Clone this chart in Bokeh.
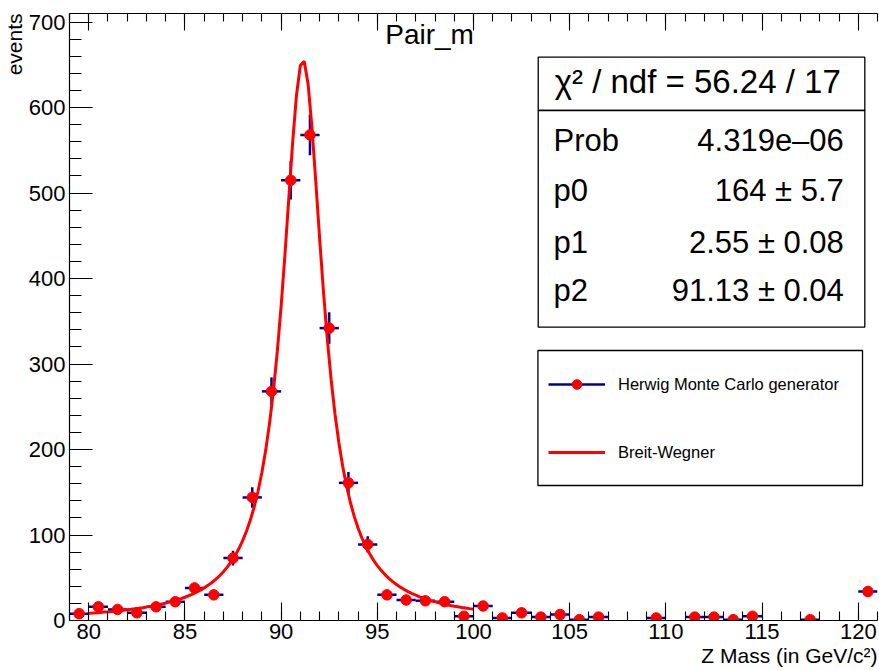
import numpy as np
from bokeh.plotting import figure
from bokeh.models import (ColumnDataSource, LinearAxis, SingleIntervalTicker, Label, Title,
                          BoxAnnotation, Legend, LegendItem, Range1d)
from bokeh.embed import file_html
from bokeh.resources import INLINE

# ---------------- data ----------------
bin_centers = [79.5, 80.5, 81.5, 82.5, 83.5, 84.5, 85.5, 86.5, 87.5, 88.5,
               89.5, 90.5, 91.5, 92.5, 93.5, 94.5, 95.5, 96.5, 97.5, 98.5,
               99.5, 100.5, 101.5, 102.5, 103.5, 104.5, 105.5, 106.5, 107.5, 108.5,
               109.5, 110.5, 111.5, 112.5, 113.5, 114.5, 115.5, 116.5, 117.5, 118.5,
               119.5, 120.5]
counts = [8, 16, 13, 9, 16, 22, 38, 30, 73, 144,
          268, 515, 568, 342, 161, 89, 30, 24, 23, 22,
          5, 17, 3, 9, 4, 7, 1, 4, 0, 0,
          3, 0, 4, 4, 1, 5, 0, 0, 1, 0,
          0, 34]
bin_width = 1.0

# Breit-Wigner fit parameters (from the stats box)
p0, p1, p2 = 164.0, 2.55, 91.13
fit_range = (80.0, 100.0)

stats_header = "\u03c7\u00b2 / ndf = 56.24 / 17"
stat_names = ["Prob", "p0", "p1", "p2"]
stat_values = ["4.319e\u201306", "164 \u00b1 5.7", "2.55 \u00b1 0.08", "91.13 \u00b1 0.04"]

title_text = "Pair_m"
x_title = "Z Mass (in GeV/c\u00b2)"
y_title = "events"
legend_labels = ["Herwig Monte Carlo generator", "Breit-Wegner"]

# ---------------- geometry ----------------
XMIN, XMAX = 79.0, 121.0
YMIN, YMAX = 0.0, 710.0
FL, FR, FT, FB = 68.0, 877.0, 13.0, 620.0   # frame edges in page pixels
W, H = 879, 670
BASE_SHIFT = 0.37   # empirical baseline correction (fraction of font size)
FONT = "Liberation Sans"
NAVY = "#000099"
RED = "#ff0000"


def dx(px):
    return XMIN + (px - FL) * (XMAX - XMIN) / (FR - FL)


def dy(py):
    return YMIN + (FB - py) * (YMAX - YMIN) / (FB - FT)


def text_label(px, py, text, fs, align):
    return Label(x=dx(px), y=dy(py - BASE_SHIFT * fs), text=text, text_font=FONT,
                 text_font_size=f"{fs}px", text_align=align, text_baseline="alphabetic",
                 text_color="black")


# ---------------- sources ----------------
xc = np.array(bin_centers)
yc = np.array(counts, dtype=float)
mask = yc > 0
xs = xc[mask]
ys = yc[mask]
err = np.sqrt(ys)
src = ColumnDataSource(dict(x=xs, y=ys, x0=xs - bin_width / 2, x1=xs + bin_width / 2,
                            y0=ys - err, y1=ys + err))

xf = np.linspace(fit_range[0], fit_range[1], 101)
yf = p0 * p1 ** 2 / ((xf - p2) ** 2 + p1 ** 2 / 4.0)
fit_src = ColumnDataSource(dict(x=xf, y=yf))

# ---------------- figure ----------------
p = figure(width=W, height=H, x_range=Range1d(XMIN, XMAX), y_range=Range1d(YMIN, YMAX),
           output_backend="svg", toolbar_location=None,
           min_border_left=int(FL), min_border_right=int(W - FR),
           min_border_top=int(FT), min_border_bottom=int(H - FB))
p.grid.visible = False
p.outline_line_color = None
p.background_fill_color = "white"
p.border_fill_color = "white"

p.xaxis.ticker = SingleIntervalTicker(interval=5, num_minor_ticks=5)
p.yaxis.ticker = SingleIntervalTicker(interval=100, num_minor_ticks=5)

for ax in p.xaxis:
    ax.major_tick_in = 18
    ax.major_tick_out = 0
    ax.minor_tick_in = 9
    ax.minor_tick_out = 0
    ax.major_label_standoff = 3
for ax in p.yaxis:
    ax.major_tick_in = 23
    ax.major_tick_out = 0
    ax.minor_tick_in = 12
    ax.minor_tick_out = 0
    ax.major_label_standoff = 4
for ax in list(p.xaxis) + list(p.yaxis):
    ax.axis_line_color = "black"
    ax.axis_line_width = 1.2
    ax.major_tick_line_color = "black"
    ax.minor_tick_line_color = "black"
    ax.major_tick_line_width = 1.1
    ax.minor_tick_line_width = 1.1
    ax.major_label_text_font = FONT
    ax.major_label_text_font_size = "22px"
    ax.major_label_text_color = "black"

top = LinearAxis(ticker=SingleIntervalTicker(interval=5, num_minor_ticks=5),
                 major_tick_in=17, major_tick_out=0, minor_tick_in=8, minor_tick_out=0,
                 major_label_standoff=0, major_label_text_font_size="0px",
                 major_label_overrides={v: "" for v in range(75, 130, 5)},
                 axis_line_color="black", axis_line_width=1.2,
                 major_tick_line_color="black", minor_tick_line_color="black",
                 major_tick_line_width=1.1, minor_tick_line_width=1.1)
p.add_layout(top, "above")

# axis titles as side titles (right/top aligned like ROOT)
p.add_layout(Title(text=x_title, align="right", standoff=0, text_font=FONT,
                   text_font_size="21px", text_font_style="normal", text_color="black"), "below")
p.add_layout(Title(text=y_title, align="right", standoff=0, text_font=FONT,
                   text_font_size="21px", text_font_style="normal", text_color="black"), "left")

# ---------------- glyphs ----------------
hseg = p.segment(x0="x0", y0="y", x1="x1", y1="y", source=src, line_color=NAVY, line_width=2.5)
vseg = p.segment(x0="x", y0="y0", x1="x", y1="y1", source=src, line_color=NAVY, line_width=2.5)
pts = p.scatter("x", "y", source=src, size=10.5, fill_color=RED, line_color=RED, marker="circle")
fit = p.line("x", "y", source=fit_src, line_color=RED, line_width=3)

# ---------------- stats box ----------------
box_kw = dict(fill_color="white", fill_alpha=1.0, line_color="black", line_width=1.3, line_alpha=1.0)
p.add_layout(BoxAnnotation(left=dx(537.3), right=dx(864.3), top=dy(56.7), bottom=dy(110), **box_kw))
p.add_layout(BoxAnnotation(left=dx(537.3), right=dx(864.3), top=dy(110), bottom=dy(326.7), **box_kw))
p.add_layout(text_label(697, 93.3, stats_header, 33, "center"))
row_base = [151.7, 201.7, 253.0, 301.7]
for name, val, b in zip(stat_names, stat_values, row_base):
    p.add_layout(text_label(552.7, b, name, 31, "left"))
    p.add_layout(text_label(843.3, b, val, 31, "right"))

# ---------------- legend ----------------
p.add_layout(BoxAnnotation(left=dx(537), right=dx(862), top=dy(350), bottom=dy(485), **box_kw))
legend = Legend(items=[LegendItem(label=legend_labels[0], renderers=[hseg, pts]),
                       LegendItem(label=legend_labels[1], renderers=[fit])],
                location=(479, 156), glyph_width=57, glyph_height=24, label_height=24,
                label_width=200, padding=22, spacing=44, label_standoff=13, margin=0,
                border_line_color=None, background_fill_alpha=0.0,
                label_text_font=FONT, label_text_font_size="16.5px", label_text_color="black")
p.add_layout(legend)

# ---------------- title ----------------
p.add_layout(text_label(428.5, 44.3, title_text, 28, "center"))

open("out.html", "w").write(file_html(p, INLINE))
